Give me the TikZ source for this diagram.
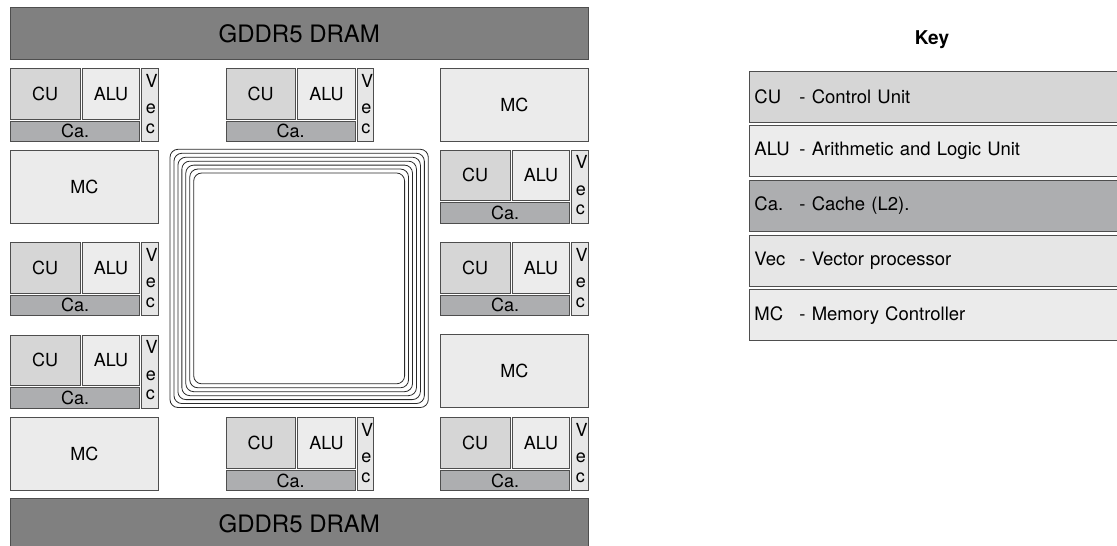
\documentclass[tikz,border=0pt]{standalone}
\usepackage{fontspec}
\setmainfont{TeX Gyre Heros}
\definecolor{dramcol}{HTML}{808080}
\definecolor{cucol}{HTML}{D6D6D6}
\definecolor{alucol}{HTML}{ECECEC}
\definecolor{cacol}{HTML}{ADAEB0}
\definecolor{veccol}{HTML}{E6E6E6}
\definecolor{mccol}{HTML}{EBEBEB}
\definecolor{edgecol}{HTML}{4E4E4E}
\definecolor{ringcol}{HTML}{2A2A2A}
\tikzset{
  unitbox/.style={draw=edgecol, line width=0.9pt, inner sep=0pt, anchor=north west,
    font=\fontsize{18}{20}\selectfont},
  cubox/.style={unitbox, fill=cucol, minimum width=69.5pt, minimum height=50.5pt},
  alubox/.style={unitbox, fill=alucol, minimum width=57.6pt, minimum height=50.5pt},
  vecbox/.style={unitbox, fill=veccol, minimum width=16.5pt, minimum height=73pt},
  cabox/.style={unitbox, fill=cacol, minimum width=129.3pt, minimum height=20.5pt},
  mcbox/.style={unitbox, fill=mccol, minimum width=147.7pt, minimum height=73pt},
  drambox/.style={unitbox, fill=dramcol, minimum width=577.7pt, minimum height=52pt,
    font=\fontsize{24}{26}\selectfont},
  vecletter/.style={inner sep=0pt, anchor=base west, font=\fontsize{18}{20}\selectfont},
  ring/.style={draw=ringcol, line width=0.8pt, rounded corners=8pt},
  keybox/.style={draw=edgecol, line width=0.9pt, anchor=north west, inner xsep=5.5pt,
    inner ysep=0pt, text width=360pt, align=left, minimum height=51pt,
    font=\fontsize{18.5}{21}\selectfont},
}
\newcommand\cublock[3]{%
  \node[cubox] (#1cu) at (#2,#3) {CU};
  \node[alubox] (#1alu) at (#2+71.7,#3) {ALU};
  \node[vecbox] (#1vec) at (#2+131,#3) {};
  \node[cabox] (#1ca) at (#2,#3+52.5) {Ca.};
  \node[vecletter] (#1vv) at (#2+135.3,#3+19.3) {V};
  \node[vecletter] (#1ve) at (#2+135.6,#3+45.5) {e};
  \node[vecletter] (#1vc) at (#2+135.6,#3+65.3) {c};
}
\newcommand\keyterm[2]{\makebox[45pt][l]{#1}- #2}
\begin{document}
\begin{tikzpicture}[x=1pt, y=-1pt]
\useasboundingbox (0,0) rectangle (1117,546);
\clip (0,0) rectangle (1117,546);
% DRAM
\node[drambox] (dramtop) at (10,7.3) {GDDR5 DRAM};
\node[drambox] (drambot) at (10,497.7) {\raisebox{2.2pt}{GDDR5 DRAM}};
% compute blocks
\cublock{la}{10}{68}
\cublock{ma}{225.5}{68}
\cublock{rb}{440}{149.5}
\cublock{lc}{10}{242}
\cublock{rc}{440}{242}
\cublock{ld}{10}{334.5}
\cublock{me}{225.5}{417.3}
\cublock{re}{440}{417.3}
% memory controllers
\node[mcbox] (mcra) at (440,68) {MC};
\node[mcbox] (mclb) at (10,149.5) {MC};
\node[mcbox] (mcrd) at (440,333.5) {MC};
\node[mcbox] (mcle) at (10,417.3) {MC};
% central die rings
\foreach \i in {0,...,6}{
  \draw[ring] (170+3.95*\i,149.3+3.95*\i) rectangle (428.3-3.95*\i,407.5-3.95*\i);
}
% key
\node[font=\bfseries\fontsize{19}{21}\selectfont] (keytitle) at (932,40) {Key};
\node[keybox, fill=cucol] (kcu) at (748.5,70.7) {\keyterm{CU}{Control Unit}};
\node[keybox, fill=alucol] (kalu) at (748.5,125.3) {\keyterm{ALU}{Arithmetic and Logic Unit}};
\node[keybox, fill=cacol] (kca) at (748.5,180) {\keyterm{Ca.}{Cache (L2).}};
\node[keybox, fill=veccol] (kvec) at (748.5,234.6) {\keyterm{Vec}{Vector processor}};
\node[keybox, fill=mccol] (kmc) at (748.5,289.3) {\keyterm{MC}{Memory Controller}};
\end{tikzpicture}
\end{document}
